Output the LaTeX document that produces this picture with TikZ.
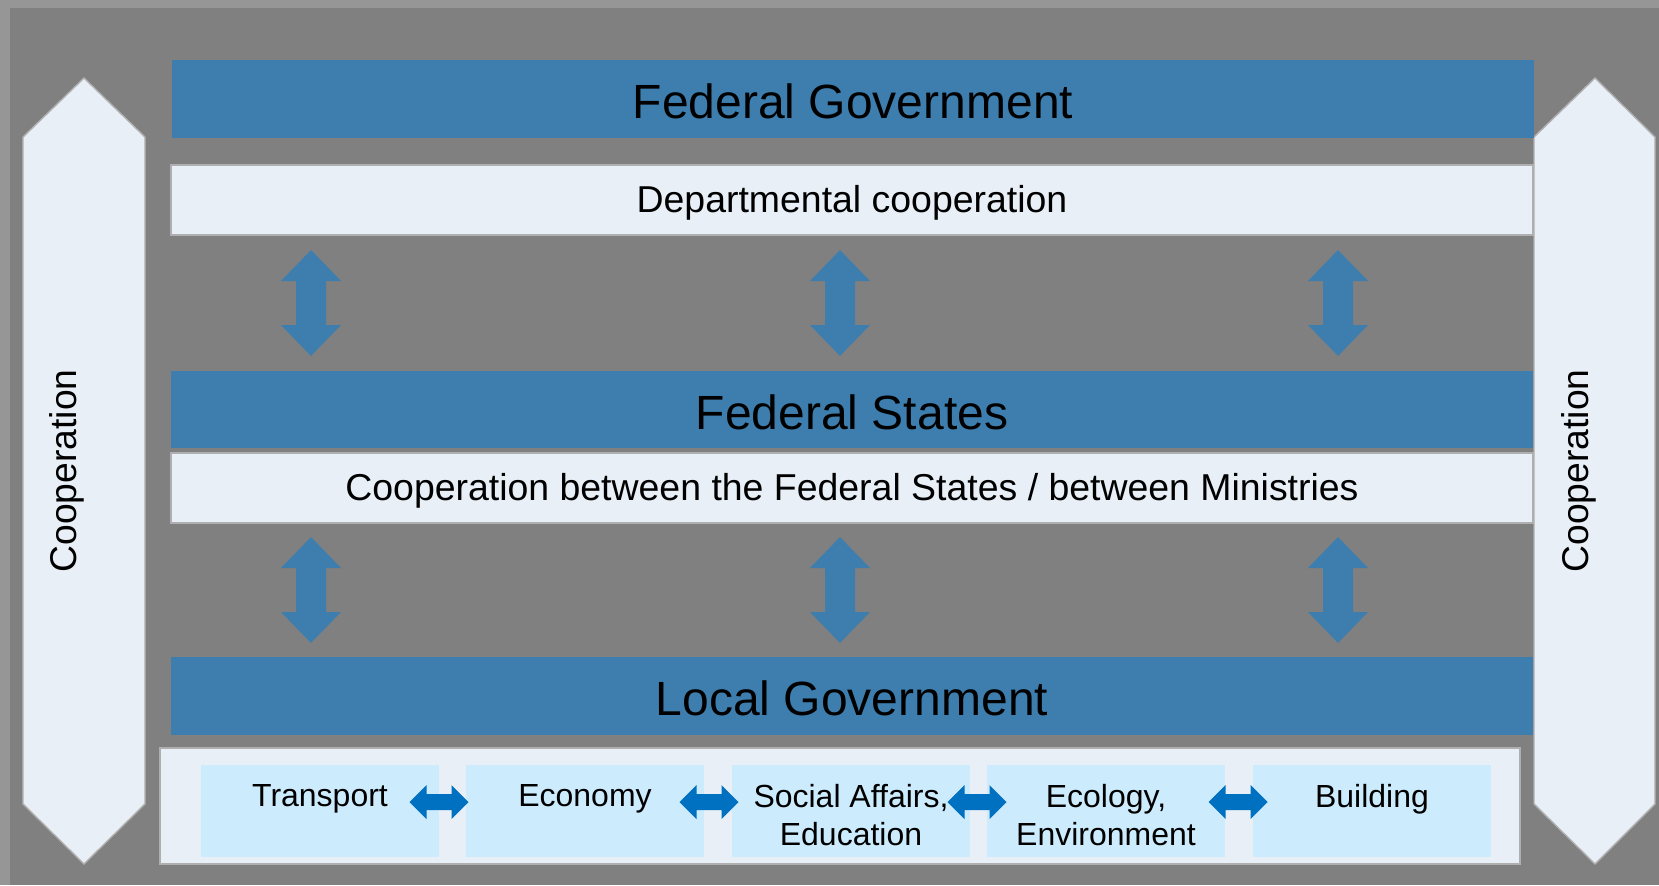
\documentclass[tikz,border=0pt]{standalone}
\usepackage{fontspec}
\setmainfont{Liberation Sans}
\usetikzlibrary{positioning}

\definecolor{framegray}{HTML}{969696}
\definecolor{bggray}{HTML}{808080}
\definecolor{barblue}{HTML}{3D7EAE}
\definecolor{paleblue}{HTML}{E8EFF7}
\definecolor{subcyan}{HTML}{CCEBFD}
\definecolor{linkblue}{HTML}{0070C0}
\definecolor{edgegray}{HTML}{AFAFAF}

\tikzset{
  levelbar/.style={fill=barblue, minimum width=13.62cm, minimum height=0.78cm, inner sep=0pt, text height=11.2pt, text depth=0pt, font=\fontsize{13.66}{16}\selectfont},
  coopbar/.style={fill=paleblue, draw=edgegray, line width=0.4pt, minimum width=13.62cm, minimum height=0.70cm, inner sep=0pt, text height=8.2pt, text depth=1.0pt, font=\fontsize{10.65}{12.7}\selectfont},
  areabox/.style={fill=subcyan, minimum width=2.38cm, minimum height=0.92cm, inner sep=0pt},
  areatext/.style={font=\fontsize{9.1}{10.9}\selectfont, align=center, anchor=north, inner sep=0pt, yshift=-0.19cm},
  sidetext/.style={rotate=90, font=\fontsize{10.6}{12.7}\selectfont},
  vlink/.pic={\fill[barblue] (0,-0.53) -- (0.30,-0.22) -- (0.15,-0.22) -- (0.15,0.22) -- (0.30,0.22) -- (0,0.53) -- (-0.30,0.22) -- (-0.15,0.22) -- (-0.15,-0.22) -- (-0.30,-0.22) -- cycle;},
  hlink/.pic={\fill[linkblue] (-0.295,0) -- (-0.125,0.17) -- (-0.125,0.08) -- (0.125,0.08) -- (0.125,0.17) -- (0.295,0) -- (0.125,-0.17) -- (0.125,-0.08) -- (-0.125,-0.08) -- (-0.125,-0.17) -- cycle;}
}

\begin{document}
\begin{tikzpicture}
	% background
	\fill[framegray] (0,0) rectangle (16.59,8.85);
	\fill[bggray] (0.10,0) rectangle (16.59,8.77);
	\useasboundingbox (0,0) rectangle (16.59,8.85);

	% side arrows
	\filldraw[fill=paleblue,draw=edgegray,line width=0.4pt] (0.23,7.48) -- (0.84,8.07) -- (1.45,7.48) -- (1.45,0.81) -- (0.84,0.21) -- (0.23,0.81) -- cycle;
	\filldraw[fill=paleblue,draw=edgegray,line width=0.4pt] (15.34,7.48) -- (15.95,8.07) -- (16.55,7.48) -- (16.55,0.81) -- (15.95,0.21) -- (15.34,0.81) -- cycle;
	\node[sidetext] (coopleft) at (0.67,4.14) {Cooperation};
	\node[sidetext] (coopright) at (15.79,4.14) {Cooperation};

	% levels
	\node[levelbar] (fedgov) at (8.53,7.86) {Federal Government};
	\node[coopbar] (dept) at (8.52,6.85) {Departmental cooperation};
	\node[levelbar, minimum height=0.77cm] (fedstates) at (8.52,4.755) {Federal States};
	\node[coopbar] (between) at (8.52,3.97) {Cooperation between the Federal States / between Ministries};
	\node[levelbar] (localgov) at (8.52,1.89) {Local Government};

	% vertical links
	\pic at (3.11,5.82) {vlink};
	\pic at (8.40,5.82) {vlink};
	\pic at (13.38,5.82) {vlink};
	\pic at (3.11,2.95) {vlink};
	\pic at (8.40,2.95) {vlink};
	\pic at (13.38,2.95) {vlink};

	% local areas
	\node[fill=paleblue, draw=edgegray, line width=0.4pt, minimum width=13.60cm, minimum height=1.16cm] (areas) at (8.40,0.79) {};
	\node[areabox, label={[areatext]north:Transport}] (transport) at (3.20,0.74) {};
	\node[areabox, label={[areatext]north:Economy}] (economy) at (5.85,0.74) {};
	\node[areabox, label={[areatext]north:Social Affairs,\\Education}] (social) at (8.51,0.74) {};
	\node[areabox, label={[areatext]north:Ecology,\\Environment}] (ecology) at (11.06,0.74) {};
	\node[areabox, label={[areatext]north:Building}] (building) at (13.72,0.74) {};

	\pic at (4.39,0.83) {hlink};
	\pic at (7.09,0.83) {hlink};
	\pic at (9.77,0.83) {hlink};
	\pic at (12.38,0.83) {hlink};
\end{tikzpicture}
\end{document}
